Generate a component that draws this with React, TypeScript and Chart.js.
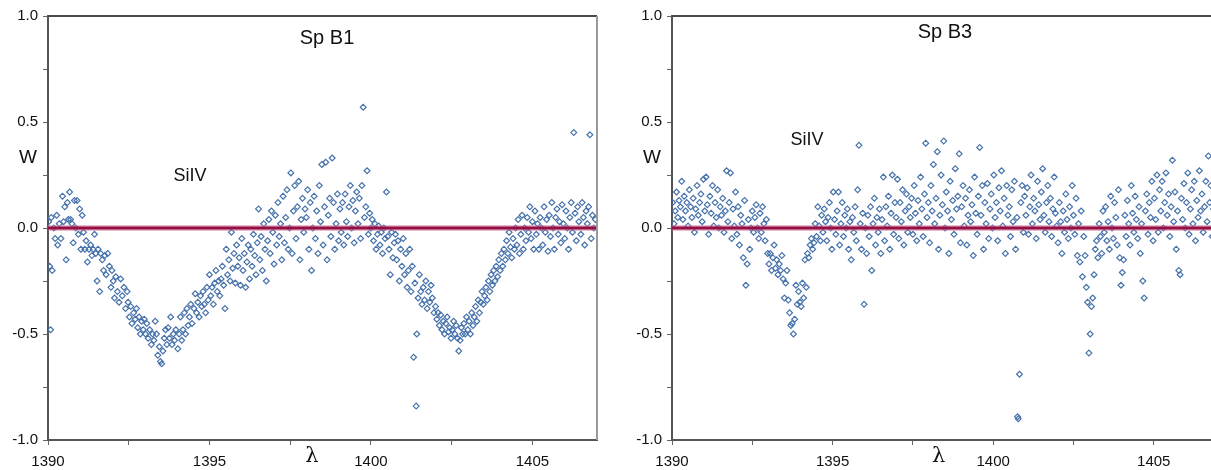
import React, { useEffect, useRef } from "react";
import { Chart, registerables } from "chart.js";

Chart.register(...registerables);

// ---- Data (λ in Å, W) ----
const spB1Points: [number, number][] = [
  [1390.02,0.03],[1390.05,-0.18],[1390.08,-0.48],[1390.1,0.05],[1390.13,-0.2],[1390.18,0.0],[1390.22,-0.05],[1390.27,0.06],[1390.3,-0.08],[1390.35,0.02],[1390.4,-0.05],[1390.45,0.15],[1390.48,0.03],
  [1390.52,0.1],[1390.56,-0.15],[1390.6,0.12],[1390.63,0.04],[1390.67,0.17],[1390.7,0.04],[1390.74,0.02],[1390.78,-0.07],[1390.82,0.13],[1390.86,0.0],[1390.9,0.13],[1390.94,-0.03],[1390.98,0.09],
  [1391.02,-0.1],[1391.06,0.06],[1391.1,-0.02],[1391.14,-0.1],[1391.18,-0.06],[1391.22,-0.16],[1391.27,-0.1],[1391.32,-0.08],[1391.36,-0.13],[1391.4,-0.1],[1391.44,-0.03],[1391.48,-0.12],
  [1391.52,-0.25],[1391.55,-0.1],[1391.6,-0.3],[1391.63,-0.12],[1391.68,-0.15],[1391.72,-0.2],[1391.76,-0.13],[1391.8,-0.22],[1391.85,-0.12],[1391.9,-0.18],[1391.95,-0.28],[1391.98,-0.2],
  [1392.02,-0.25],[1392.06,-0.33],[1392.1,-0.23],[1392.15,-0.3],[1392.2,-0.35],[1392.25,-0.24],[1392.3,-0.32],[1392.35,-0.28],[1392.4,-0.38],[1392.45,-0.3],[1392.48,-0.35],
  [1392.52,-0.42],[1392.56,-0.37],[1392.6,-0.45],[1392.65,-0.4],[1392.7,-0.43],[1392.74,-0.38],[1392.78,-0.47],[1392.82,-0.42],[1392.86,-0.5],[1392.9,-0.44],[1392.95,-0.48],[1392.98,-0.43],
  [1393.02,-0.5],[1393.06,-0.45],[1393.1,-0.52],[1393.15,-0.48],[1393.2,-0.55],[1393.24,-0.5],[1393.28,-0.53],[1393.32,-0.44],[1393.36,-0.5],[1393.4,-0.6],[1393.45,-0.56],[1393.48,-0.63],
  [1393.52,-0.64],[1393.56,-0.58],[1393.6,-0.52],[1393.64,-0.48],[1393.68,-0.55],[1393.72,-0.47],[1393.76,-0.52],[1393.8,-0.42],[1393.84,-0.55],[1393.88,-0.5],[1393.92,-0.53],[1393.96,-0.48],
  [1394.02,-0.57],[1394.06,-0.5],[1394.1,-0.42],[1394.14,-0.53],[1394.18,-0.48],[1394.22,-0.4],[1394.26,-0.5],[1394.3,-0.38],[1394.34,-0.46],[1394.38,-0.42],[1394.42,-0.36],[1394.46,-0.45],
  [1394.52,-0.38],[1394.56,-0.31],[1394.6,-0.4],[1394.64,-0.35],[1394.68,-0.42],[1394.72,-0.32],[1394.76,-0.37],[1394.8,-0.3],[1394.84,-0.36],[1394.88,-0.4],[1394.92,-0.28],[1394.96,-0.34],
  [1395.0,-0.22],[1395.04,-0.32],[1395.08,-0.28],[1395.12,-0.36],[1395.16,-0.26],[1395.2,-0.2],[1395.24,-0.3],[1395.28,-0.25],[1395.32,-0.32],[1395.36,-0.24],[1395.4,-0.18],[1395.44,-0.27],[1395.48,-0.38],
  [1395.52,-0.1],[1395.56,-0.22],[1395.6,-0.15],[1395.64,-0.25],[1395.68,-0.02],[1395.72,-0.19],[1395.76,-0.12],[1395.8,-0.26],[1395.84,-0.08],[1395.88,-0.18],[1395.92,-0.14],[1395.96,-0.27],
  [1396.0,-0.05],[1396.04,-0.2],[1396.08,-0.12],[1396.12,-0.28],[1396.16,-0.16],[1396.2,-0.08],[1396.24,-0.24],[1396.28,-0.1],[1396.32,-0.18],[1396.36,-0.03],[1396.4,-0.13],[1396.44,-0.22],[1396.48,-0.07],
  [1396.52,0.09],[1396.56,-0.15],[1396.6,-0.04],[1396.64,-0.2],[1396.68,0.02],[1396.72,-0.1],[1396.76,-0.25],[1396.8,-0.06],[1396.84,0.04],[1396.88,-0.12],[1396.92,0.08],[1396.96,-0.02],
  [1397.0,-0.17],[1397.04,0.06],[1397.08,-0.08],[1397.12,0.12],[1397.16,-0.04],[1397.2,0.02],[1397.24,-0.15],[1397.28,0.15],[1397.32,-0.07],[1397.36,0.05],[1397.4,0.18],[1397.44,-0.1],[1397.48,0.0],
  [1397.52,0.26],[1397.56,-0.12],[1397.6,0.08],[1397.64,0.2],[1397.68,-0.05],[1397.72,0.1],[1397.76,0.22],[1397.8,-0.15],[1397.84,0.04],[1397.88,0.14],[1397.92,-0.02],[1397.96,0.09],
  [1398.0,0.05],[1398.04,0.18],[1398.08,-0.1],[1398.12,0.12],[1398.16,-0.2],[1398.2,0.0],[1398.24,0.15],[1398.28,-0.05],[1398.32,0.08],[1398.36,-0.12],[1398.4,0.2],[1398.44,0.03],[1398.48,0.3],
  [1398.52,-0.08],[1398.56,0.1],[1398.6,0.31],[1398.64,-0.15],[1398.68,0.06],[1398.72,0.14],[1398.76,-0.04],[1398.8,0.33],[1398.84,0.12],[1398.88,-0.1],[1398.92,0.02],[1398.96,0.16],
  [1399.0,-0.06],[1399.04,0.09],[1399.08,-0.02],[1399.12,0.12],[1399.16,-0.08],[1399.2,0.16],[1399.24,0.03],[1399.28,-0.04],[1399.32,0.1],[1399.36,0.2],[1399.4,0.0],[1399.44,0.13],[1399.48,-0.07],
  [1399.52,0.08],[1399.56,0.17],[1399.6,0.02],[1399.64,0.14],[1399.68,-0.05],[1399.72,0.2],[1399.76,0.57],[1399.8,0.05],[1399.84,0.1],[1399.88,0.27],[1399.92,-0.03],[1399.96,0.07],
  [1400.0,0.0],[1400.04,0.04],[1400.08,-0.06],[1400.12,0.02],[1400.16,-0.1],[1400.2,-0.03],[1400.24,0.01],[1400.28,-0.08],[1400.32,-0.02],[1400.36,-0.12],[1400.4,0.0],[1400.44,-0.05],[1400.48,0.17],
  [1400.52,-0.04],[1400.56,-0.1],[1400.6,-0.22],[1400.64,-0.02],[1400.68,-0.14],[1400.72,-0.07],[1400.76,-0.03],[1400.8,-0.15],[1400.84,-0.06],[1400.88,-0.25],[1400.92,-0.1],[1400.96,-0.18],
  [1401.0,-0.05],[1401.04,-0.22],[1401.08,-0.12],[1401.12,-0.28],[1401.16,-0.2],[1401.2,-0.1],[1401.24,-0.3],[1401.28,-0.18],[1401.32,-0.61],[1401.36,-0.26],[1401.4,-0.84],[1401.42,-0.5],[1401.46,-0.33],
  [1401.5,-0.22],[1401.54,-0.3],[1401.58,-0.36],[1401.62,-0.28],[1401.66,-0.34],[1401.7,-0.25],[1401.74,-0.38],[1401.78,-0.3],[1401.82,-0.35],[1401.86,-0.27],[1401.9,-0.33],[1401.95,-0.4],
  [1402.0,-0.37],[1402.04,-0.43],[1402.08,-0.4],[1402.12,-0.46],[1402.16,-0.41],[1402.2,-0.48],[1402.24,-0.44],[1402.28,-0.5],[1402.32,-0.45],[1402.36,-0.42],[1402.4,-0.49],[1402.44,-0.47],[1402.48,-0.52],
  [1402.52,-0.48],[1402.56,-0.44],[1402.6,-0.5],[1402.64,-0.46],[1402.68,-0.52],[1402.72,-0.58],[1402.76,-0.53],[1402.8,-0.47],[1402.84,-0.5],[1402.88,-0.45],[1402.92,-0.5],[1402.96,-0.42],
  [1403.0,-0.48],[1403.04,-0.44],[1403.08,-0.5],[1403.12,-0.4],[1403.16,-0.46],[1403.2,-0.42],[1403.24,-0.37],[1403.28,-0.44],[1403.32,-0.34],[1403.36,-0.4],[1403.4,-0.35],[1403.44,-0.3],[1403.48,-0.36],
  [1403.52,-0.32],[1403.56,-0.28],[1403.6,-0.34],[1403.64,-0.25],[1403.68,-0.3],[1403.72,-0.22],[1403.76,-0.27],[1403.8,-0.2],[1403.84,-0.25],[1403.88,-0.18],[1403.92,-0.23],[1403.96,-0.15],
  [1404.0,-0.2],[1404.04,-0.12],[1404.08,-0.18],[1404.12,-0.1],[1404.16,-0.15],[1404.2,-0.06],[1404.24,-0.12],[1404.28,-0.02],[1404.32,-0.09],[1404.36,-0.14],[1404.4,-0.05],[1404.44,-0.1],[1404.48,0.0],
  [1404.52,-0.08],[1404.56,0.04],[1404.6,-0.12],[1404.64,-0.03],[1404.68,0.06],[1404.72,-0.1],[1404.76,0.0],[1404.8,-0.06],[1404.84,0.05],[1404.88,-0.02],[1404.92,0.1],[1404.96,-0.05],
  [1405.0,0.03],[1405.04,-0.1],[1405.08,0.08],[1405.12,-0.03],[1405.16,0.02],[1405.2,-0.1],[1405.24,0.05],[1405.28,0.0],[1405.32,-0.08],[1405.36,0.1],[1405.4,-0.02],[1405.44,0.04],[1405.48,-0.11],
  [1405.52,0.06],[1405.56,-0.04],[1405.6,0.12],[1405.64,0.0],[1405.68,-0.1],[1405.72,0.05],[1405.76,0.09],[1405.8,-0.03],[1405.84,0.03],[1405.88,-0.07],[1405.92,0.11],[1405.96,0.02],
  [1406.0,-0.05],[1406.04,0.08],[1406.08,0.0],[1406.12,-0.1],[1406.16,0.05],[1406.2,0.12],[1406.24,-0.02],[1406.28,0.45],[1406.32,0.07],[1406.36,-0.06],[1406.4,0.1],[1406.44,0.03],
  [1406.5,-0.03],[1406.54,0.12],[1406.58,0.05],[1406.62,-0.08],[1406.66,0.08],[1406.7,0.02],[1406.74,0.1],[1406.78,0.44],[1406.82,-0.05],[1406.86,0.06],[1406.9,0.0],[1406.95,0.04],
];

const spB3Points: [number, number][] = [
  [1390.02,0.12],[1390.06,0.02],[1390.1,0.08],[1390.14,0.17],[1390.18,0.05],[1390.22,0.13],[1390.26,0.1],[1390.3,0.22],[1390.34,0.04],[1390.38,0.15],[1390.42,0.08],[1390.46,0.12],
  [1390.5,0.01],[1390.54,0.18],[1390.58,0.1],[1390.62,0.05],[1390.66,0.14],[1390.7,-0.02],[1390.74,0.09],[1390.78,0.2],[1390.82,0.06],[1390.86,0.12],[1390.9,0.16],[1390.94,0.03],[1390.98,0.23],
  [1391.02,0.08],[1391.06,0.24],[1391.1,0.11],[1391.14,-0.03],[1391.18,0.15],[1391.22,0.07],[1391.26,0.2],[1391.3,0.01],[1391.34,0.12],[1391.38,0.05],[1391.42,0.18],[1391.46,0.0],
  [1391.5,0.1],[1391.54,0.06],[1391.58,0.14],[1391.62,-0.02],[1391.66,0.08],[1391.7,0.27],[1391.74,0.03],[1391.78,0.12],[1391.82,0.26],[1391.86,-0.05],[1391.9,0.09],[1391.94,0.01],[1391.98,0.17],
  [1392.02,-0.03],[1392.06,0.1],[1392.1,-0.08],[1392.14,0.06],[1392.18,0.02],[1392.22,-0.14],[1392.26,0.13],[1392.3,-0.27],[1392.34,-0.17],[1392.38,0.04],[1392.42,-0.1],[1392.46,0.0],
  [1392.5,0.08],[1392.54,-0.02],[1392.58,0.05],[1392.62,0.11],[1392.66,0.0],[1392.7,-0.05],[1392.74,0.07],[1392.78,-0.02],[1392.82,0.1],[1392.86,0.02],[1392.9,-0.06],[1392.94,0.04],[1392.98,-0.12],
  [1393.02,-0.17],[1393.06,-0.12],[1393.1,-0.2],[1393.14,-0.14],[1393.18,-0.08],[1393.22,-0.19],[1393.26,-0.15],[1393.3,-0.22],[1393.34,-0.17],[1393.38,-0.2],[1393.42,-0.13],[1393.46,-0.24],
  [1393.5,-0.33],[1393.54,-0.26],[1393.58,-0.2],[1393.62,-0.34],[1393.66,-0.4],[1393.7,-0.46],[1393.74,-0.45],[1393.78,-0.5],[1393.82,-0.43],[1393.86,-0.27],[1393.9,-0.36],[1393.94,-0.3],[1393.98,-0.35],
  [1394.02,-0.37],[1394.06,-0.26],[1394.1,-0.33],[1394.14,-0.15],[1394.18,-0.28],[1394.22,-0.12],[1394.26,-0.14],[1394.3,-0.08],[1394.34,-0.05],[1394.38,-0.1],[1394.42,-0.07],[1394.46,0.02],
  [1394.5,-0.04],[1394.54,0.1],[1394.58,0.01],[1394.62,-0.06],[1394.66,0.06],[1394.7,-0.02],[1394.74,0.09],[1394.78,0.03],[1394.82,-0.06],[1394.86,0.05],[1394.9,0.12],[1394.94,0.0],[1394.98,-0.1],
  [1395.02,0.17],[1395.06,0.04],[1395.1,-0.03],[1395.14,0.08],[1395.18,0.17],[1395.22,-0.08],[1395.26,0.02],[1395.3,0.12],[1395.34,-0.04],[1395.38,0.06],[1395.42,0.0],[1395.46,0.09],
  [1395.5,-0.1],[1395.54,0.03],[1395.58,-0.15],[1395.62,0.05],[1395.66,-0.02],[1395.7,0.1],[1395.74,-0.06],[1395.78,0.18],[1395.82,0.39],[1395.86,0.02],[1395.9,-0.1],[1395.94,0.07],[1395.98,-0.36],
  [1396.02,0.0],[1396.06,-0.12],[1396.1,0.06],[1396.14,-0.04],[1396.18,0.1],[1396.22,-0.2],[1396.26,0.02],[1396.3,0.14],[1396.34,-0.08],[1396.38,0.05],[1396.42,-0.02],[1396.46,0.09],
  [1396.5,-0.12],[1396.54,0.04],[1396.58,0.24],[1396.62,-0.06],[1396.66,0.1],[1396.7,0.01],[1396.74,0.15],[1396.78,-0.1],[1396.82,0.07],[1396.86,0.25],[1396.9,-0.03],[1396.94,0.12],[1396.98,0.05],
  [1397.02,0.23],[1397.06,-0.05],[1397.1,0.12],[1397.14,0.03],[1397.18,0.18],[1397.22,-0.08],[1397.26,0.08],[1397.3,0.16],[1397.34,-0.02],[1397.38,0.1],[1397.42,0.05],[1397.46,0.14],
  [1397.5,-0.03],[1397.54,0.2],[1397.58,0.07],[1397.62,-0.06],[1397.66,0.13],[1397.7,0.02],[1397.74,0.24],[1397.78,0.09],[1397.82,-0.04],[1397.86,0.16],[1397.9,0.4],[1397.94,0.05],[1397.98,0.12],
  [1398.02,-0.07],[1398.06,0.2],[1398.1,0.08],[1398.14,0.3],[1398.18,0.02],[1398.22,0.14],[1398.26,0.36],[1398.3,-0.1],[1398.34,0.06],[1398.38,0.25],[1398.42,0.11],[1398.46,0.41],
  [1398.5,0.0],[1398.54,0.17],[1398.58,0.08],[1398.62,-0.12],[1398.66,0.22],[1398.7,0.04],[1398.74,0.13],[1398.78,-0.03],[1398.82,0.28],[1398.86,0.09],[1398.9,0.15],[1398.94,0.35],[1398.98,-0.07],
  [1399.02,0.1],[1399.06,0.2],[1399.1,0.01],[1399.14,0.14],[1399.18,-0.08],[1399.22,0.06],[1399.26,0.18],[1399.3,0.03],[1399.34,0.11],[1399.38,-0.13],[1399.42,0.24],[1399.46,0.07],
  [1399.5,-0.03],[1399.54,0.15],[1399.58,0.38],[1399.62,0.06],[1399.66,0.2],[1399.7,-0.1],[1399.74,0.12],[1399.78,0.02],[1399.82,0.21],[1399.86,-0.05],[1399.9,0.09],[1399.94,0.16],[1399.98,0.0],
  [1400.02,0.25],[1400.06,0.05],[1400.1,0.12],[1400.14,-0.06],[1400.18,0.19],[1400.22,0.08],[1400.26,0.27],[1400.3,0.01],[1400.34,0.14],[1400.38,-0.12],[1400.42,0.2],[1400.46,0.06],
  [1400.5,0.1],[1400.54,-0.04],[1400.58,0.18],[1400.62,0.03],[1400.66,0.22],[1400.7,-0.1],[1400.74,0.05],[1400.76,-0.89],[1400.78,-0.9],[1400.82,-0.69],[1400.86,0.12],[1400.9,0.2],[1400.94,-0.02],[1400.98,0.15],
  [1401.02,0.06],[1401.06,0.19],[1401.1,-0.03],[1401.14,0.1],[1401.18,0.25],[1401.22,0.02],[1401.26,0.14],[1401.3,0.08],[1401.34,-0.05],[1401.38,0.22],[1401.42,0.11],[1401.46,0.04],
  [1401.5,0.17],[1401.54,0.28],[1401.58,0.06],[1401.62,-0.02],[1401.66,0.12],[1401.7,0.2],[1401.74,0.03],[1401.78,0.14],[1401.82,-0.04],[1401.86,0.09],[1401.9,0.24],[1401.94,0.07],[1401.98,0.01],
  [1402.02,-0.07],[1402.06,0.12],[1402.1,0.03],[1402.14,-0.12],[1402.18,0.08],[1402.22,-0.02],[1402.26,0.16],[1402.3,0.04],[1402.34,-0.05],[1402.38,0.1],[1402.42,0.0],[1402.46,0.2],
  [1402.5,0.06],[1402.54,-0.03],[1402.58,0.14],[1402.62,-0.13],[1402.66,0.02],[1402.7,-0.16],[1402.74,0.08],[1402.78,-0.23],[1402.82,-0.04],[1402.86,-0.13],[1402.9,-0.28],[1402.94,-0.35],[1402.98,-0.59],
  [1403.02,-0.5],[1403.06,-0.37],[1403.1,-0.33],[1403.14,-0.22],[1403.18,-0.1],[1403.22,-0.06],[1403.26,-0.14],[1403.3,0.02],[1403.34,-0.04],[1403.38,-0.12],[1403.42,0.08],[1403.46,-0.02],
  [1403.5,0.1],[1403.54,-0.06],[1403.58,0.03],[1403.62,-0.1],[1403.66,0.15],[1403.7,0.0],[1403.74,-0.05],[1403.78,0.12],[1403.82,0.05],[1403.86,-0.08],[1403.9,0.18],[1403.94,-0.14],[1403.98,-0.27],
  [1404.02,-0.21],[1404.06,-0.15],[1404.1,0.06],[1404.14,-0.04],[1404.18,0.13],[1404.22,0.02],[1404.26,-0.08],[1404.3,0.2],[1404.34,0.07],[1404.38,-0.02],[1404.42,0.15],[1404.46,0.04],
  [1404.5,-0.05],[1404.54,0.1],[1404.58,-0.12],[1404.62,0.02],[1404.66,-0.25],[1404.7,-0.33],[1404.74,0.08],[1404.78,0.16],[1404.82,-0.03],[1404.86,0.12],[1404.9,0.05],[1404.94,0.22],[1404.98,-0.06],
  [1405.02,0.14],[1405.06,0.04],[1405.1,0.25],[1405.14,-0.02],[1405.18,0.18],[1405.22,0.08],[1405.26,0.22],[1405.3,0.0],[1405.34,0.12],[1405.38,0.26],[1405.42,0.06],[1405.46,0.16],
  [1405.5,-0.04],[1405.54,0.1],[1405.58,0.32],[1405.62,0.03],[1405.66,0.17],[1405.7,-0.1],[1405.74,0.08],[1405.78,-0.2],[1405.82,-0.22],[1405.86,0.14],[1405.9,0.04],[1405.94,0.21],[1405.98,0.0],
  [1406.02,0.12],[1406.06,0.26],[1406.1,-0.03],[1406.14,0.09],[1406.18,0.18],[1406.22,0.02],[1406.26,0.22],[1406.3,-0.06],[1406.34,0.13],[1406.38,0.05],[1406.42,0.27],[1406.46,0.08],
  [1406.5,0.16],[1406.54,-0.02],[1406.58,0.1],[1406.62,0.22],[1406.66,0.03],[1406.7,0.34],[1406.74,0.12],[1406.78,0.2],[1406.82,-0.04],[1406.86,0.09],[1406.9,0.26],[1406.95,0.14],
];

const zeroLine: [number, number][] = [[1390, 0], [1407, 0]];

const xRange = [1390, 1407];
const yRange = [-1, 1];
const xTickLabels = [1390, 1395, 1400, 1405];
const yTickLabels = [-1.0, -0.5, 0.0, 0.5, 1.0];

// ---- Styling / layout ----
const FONT = "'Liberation Sans', Arial, sans-serif";

const annotPlugin = {
  id: "annot",
  afterDraw(chart: any, _args: any, opts: any) {
    const { ctx, chartArea, scales } = chart;
    const xs = scales.x;
    const ys = scales.y;
    ctx.save();
    ctx.lineWidth = 2;
    ctx.strokeStyle = "#4a4a4a";
    ctx.beginPath();
    ctx.moveTo(chartArea.left, chartArea.top);
    ctx.lineTo(chartArea.right, chartArea.top);
    ctx.stroke();
    ctx.strokeStyle = "#9a9a9a";
    ctx.beginPath();
    ctx.moveTo(chartArea.right, chartArea.top);
    ctx.lineTo(chartArea.right, chartArea.bottom);
    ctx.stroke();

    ctx.fillStyle = "#111";
    ctx.textAlign = "center";
    ctx.textBaseline = "middle";
    ctx.font = `20px ${FONT}`;
    ctx.fillText(opts.title, xs.getPixelForValue(opts.titleAt[0]), ys.getPixelForValue(opts.titleAt[1]));
    ctx.font = `18px ${FONT}`;
    ctx.fillText("SiIV", xs.getPixelForValue(opts.ionAt[0]), ys.getPixelForValue(opts.ionAt[1]));
    ctx.font = `19px ${FONT}`;
    ctx.fillText("W", chartArea.left - 20, ys.getPixelForValue(0.33));
    ctx.font = `21px 'DejaVu Serif', serif`;
    ctx.fillText("λ", xs.getPixelForValue(opts.lambdaAt), chartArea.bottom + 17);
    ctx.restore();
  },
};

function buildConfig(points: [number, number][], annot: any): any {
  return {
    type: "scatter",
    data: {
      datasets: [
        {
          type: "line",
          data: zeroLine.map(([x, y]) => ({ x, y })),
          borderColor: "#960f42",
          borderWidth: 3,
          pointRadius: 0,
          order: 0,
        },
        {
          type: "line",
          data: zeroLine.map(([x, y]) => ({ x, y })),
          borderColor: "rgba(210,120,160,0.5)",
          borderWidth: 6,
          pointRadius: 0,
          order: 1,
        },
        {
          type: "scatter",
          data: points.map(([x, y]) => ({ x, y })),
          pointStyle: "rectRot",
          pointRadius: 2.9,
          pointBorderWidth: 1.2,
          pointBorderColor: "#4672ab",
          pointBackgroundColor: "rgba(255,255,255,0)",
          showLine: false,
          order: 2,
        },
      ],
    },
    options: {
      responsive: false,
      animation: false,
      devicePixelRatio: 1,
      layout: { padding: { top: 16, right: annot.rightPad, left: 0, bottom: 0 } },
      plugins: {
        legend: { display: false },
        tooltip: { enabled: false },
        annot,
      },
      scales: {
        x: {
          type: "linear",
          min: xRange[0],
          max: xRange[1],
          afterFit: (s: any) => { s.height = 30; },
          border: { display: true, color: "#555", width: 2 },
          grid: { drawOnChartArea: false, drawTicks: true, tickLength: 5, color: "#666", lineWidth: 1 },
          ticks: {
            stepSize: 2.5,
            includeBounds: false,
            autoSkip: false,
            maxRotation: 0,
            padding: 8,
            color: "#111",
            font: { family: FONT, size: 15 },
            callback: (v: number) => (xTickLabels.some((t) => Math.abs(t - v) < 1e-6) ? String(v) : ""),
          },
        },
        y: {
          type: "linear",
          min: yRange[0],
          max: yRange[1],
          afterFit: (s: any) => { s.width = 48; },
          border: { display: true, color: "#555", width: 2 },
          grid: { drawOnChartArea: false, drawTicks: true, tickLength: 5, color: "#666", lineWidth: 1 },
          ticks: {
            stepSize: 0.25,
            autoSkip: false,
            padding: 5,
            color: "#111",
            font: { family: FONT, size: 15 },
            callback: (v: number) => (yTickLabels.some((t) => Math.abs(t - v) < 1e-6) ? v.toFixed(1) : ""),
          },
        },
      },
    },
    plugins: [annotPlugin],
  };
}

function Panel({ points, annot, left }: { points: [number, number][]; annot: any; left: number }) {
  const ref = useRef<HTMLCanvasElement>(null);
  useEffect(() => {
    if (!ref.current) return;
    const chart = new Chart(ref.current, buildConfig(points, annot));
    return () => chart.destroy();
  }, []);
  return (
    <canvas
      ref={ref}
      width={610}
      height={470}
      style={{ position: "absolute", left, top: 0, width: 610, height: 470 }}
    />
  );
}

export default function App() {
  return (
    <div
      style={{
        position: "absolute",
        left: 0,
        top: 0,
        width: 1211,
        height: 470,
        overflow: "hidden",
        background: "#fff",
      }}
    >
      <Panel
        points={spB1Points}
        left={0}
        annot={{ title: "Sp B1", titleAt: [1398.64, 0.895], ionAt: [1394.4, 0.245], lambdaAt: 1398.17, rightPad: 13 }}
      />
      <Panel
        points={spB3Points}
        left={624}
        annot={{ title: "Sp B3", titleAt: [1398.5, 0.92], ionAt: [1394.2, 0.415], lambdaAt: 1398.3, rightPad: 16 }}
      />
    </div>
  );
}
